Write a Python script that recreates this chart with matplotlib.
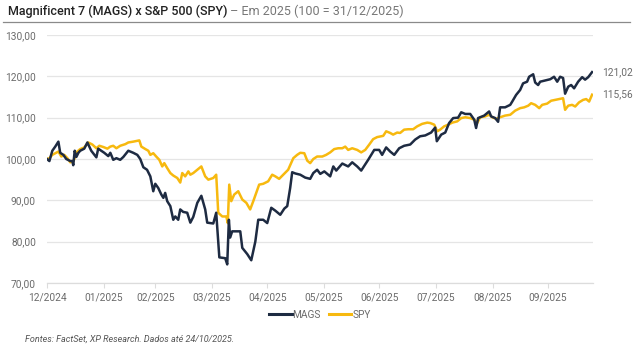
import matplotlib
matplotlib.use("Agg")
import matplotlib.pyplot as plt
import pandas as pd

# ---- data (days since 31/12/2024, index values) ----
mags_days = [0, 1.3, 2.9, 4.5, 6.2, 7.2, 8.9, 10.5, 12.7, 13.8, 14.3, 15.1, 16.0, 17.1, 18.1,
             20.3, 22.0, 24.1, 26.9, 27.9, 29.6, 31.2, 33.4, 34.5, 36.1, 37.8, 39.9, 41.6,
             44.3, 47.0, 49.2, 50.8, 52.5, 54.5, 56.3, 57.9, 59.0, 60.6, 62.3, 63.4, 64.4,
             65.5, 67.2, 68.8, 69.9, 71.5, 72.6, 74.2, 76.4, 78.1, 79.7, 81.9, 84.1, 86.2,
             87.3, 90.6, 92.2, 93.9, 97.1, 98.2, 99.1, 99.8, 100.9, 105.3, 106.4, 109.1,
             111.3, 113.5, 115.1, 117.8, 120.0, 122.2, 124.4, 127.1, 129.3, 130.9, 132.5,
             133.6, 135.3, 138.0, 140.7, 143.4, 145.1, 147.2, 148.9, 151.1, 154.3, 156.0,
             157.6, 160.9, 164.1, 166.3, 169.0, 171.2, 175.0, 178.3, 181.0, 182.6, 184.8,
             187.0, 189.2, 191.9, 194.6, 197.9, 200.6, 203.3, 206.1, 209.3, 211.5, 212.4,
             214.8, 217.0, 219.1, 221.3, 224.0, 225.7, 227.9, 230.6, 232.8, 233.8, 234.9,
             238.2, 240.9, 242.0, 244.2, 245.8, 246.9, 249.6, 252.4, 253.5, 255.6, 257.8,
             259.4, 261.6, 262.7, 264.9, 266.0, 267.6, 268.7, 271.4, 274.2, 276.3, 278.0,
             279.6, 281.2, 282.3, 284.0, 285.6, 287.2, 289.4, 291.6, 293.2, 294.9, 295.9, 297.0]
mags_vals = [100, 99.5, 102, 103, 104.2, 101.5, 101, 100, 99.5, 99.5, 98.5, 102, 100.5, 101.5, 102,
             102.5, 104, 102, 100.4, 102.5, 102, 101.5, 100.7, 101.5, 99.8, 100.2, 99.8, 100.5,
             102, 101.5, 101, 100, 98, 97.4, 95.8, 92.2, 94, 93, 91.4, 90.6, 91.8,
             89.8, 88.6, 85.3, 86.1, 85.3, 87.8, 87.2, 87, 84.6, 86, 89.4, 91.1, 87.8,
             84.6, 84.4, 87, 76.2, 76, 74.5, 85.3, 81, 82.5, 82.5, 78.5, 77,
             75.5, 80, 85.3, 85.3, 84.5, 88.2, 87.5, 86.5, 88, 88.6, 93,
             96.8, 96.5, 96.2, 95.5, 95.2, 96.6, 97.4, 96.4, 97, 95.8, 98.2,
             97.2, 98.9, 98.2, 99.2, 98.2, 97.2, 99.8, 102.2, 102.2, 101, 102.8,
             101.8, 101, 102.6, 103.2, 103.5, 104.7, 105.5, 105.7, 106.4, 107.6, 104.3,
             105.9, 106.4, 108.7, 109.9, 110, 111.3, 110.9, 110.9, 109.5, 107.5, 109.9,
             110.5, 111.5, 110.3, 109.9, 109, 112.5, 112.5, 113.1, 113.9, 115.5, 116.7,
             118.3, 118.7, 119.9, 120.5, 118.5, 117.9, 118.7, 119, 119.3, 119.9, 118.7,
             119.9, 119.6, 115.8, 117.5, 117.9, 117.1, 118.7, 119.8, 119.2, 119.8, 120.4, 121.02]

spy_days = [0, 1.3, 2.9, 4.5, 6.2, 7.8, 9.4, 11.1, 12.7, 14.3, 15.4, 16.5, 18.1, 20.3, 22.5,
            24.7, 26.9, 28.5, 30.7, 32.9, 34.5, 36.1, 37.8, 39.9, 42.7, 44.3, 47.0, 50.3,
            51.4, 53.6, 55.2, 56.3, 57.9, 59.5, 61.2, 62.8, 63.9, 65.5, 67.2, 68.8, 71.0,
            72.6, 73.7, 75.3, 77.0, 78.1, 79.7, 81.9, 84.1, 86.2, 87.9, 90.6, 92.2, 93.3,
            95.5, 97.7, 98.5, 99.3, 100.4, 102.0, 104.2, 106.4, 108.6, 110.7, 112.4, 114.0,
            115.6, 117.8, 120.5, 122.7, 124.4, 126.5, 128.7, 130.4, 131.4, 134.2, 136.3,
            138.0, 140.2, 141.8, 143.4, 145.1, 147.2, 150.0, 152.1, 154.3, 156.5, 158.7,
            160.9, 162.5, 164.1, 166.3, 169.0, 171.2, 173.4, 175.6, 177.7, 179.9, 183.2,
            184.8, 187.0, 188.6, 190.8, 192.4, 194.6, 196.8, 199.5, 201.7, 204.4, 207.2,
            208.8, 211.0, 212.6, 214.2, 216.4, 218.6, 220.8, 223.5, 225.7, 227.9, 230.6,
            232.8, 234.4, 236.0, 238.7, 240.9, 242.6, 244.7, 246.9, 249.6, 252.4, 255.1,
            257.8, 260.0, 262.2, 263.8, 266.0, 268.2, 269.8, 272.5, 274.7, 276.9, 279.1,
            281.2, 282.3, 284.0, 286.1, 287.8, 289.9, 292.1, 293.8, 295.4, 297.0]
spy_vals = [100, 100.2, 101, 101.4, 101.8, 100.6, 101, 100.2, 99.2, 99.4, 100.6, 101.8, 102.4, 102.8, 104,
            103.5, 102.6, 103.2, 102.9, 102.5, 103, 103.2, 102.6, 103.2, 103.6, 104, 104.2, 104.5,
            103, 102.4, 102, 101, 101.4, 100.6, 99.8, 98.2, 99, 97.8, 96.6, 96, 95.4,
            94.3, 96.6, 95.8, 97, 96.2, 96.6, 97.4, 98.2, 95.8, 95, 95.4, 96.2, 87,
            86.1, 86.1, 84.5, 93.8, 89.8, 91.4, 92.2, 90.2, 89.4, 87.8, 89.8, 91.8,
            93.8, 94, 94.6, 96.2, 95.8, 95.2, 96.2, 97, 97.4, 100.2, 101,
            101.5, 101.4, 99.6, 99, 100, 100.6, 100.6, 101, 101.6, 102.4, 102.6,
            102.6, 103, 102.2, 102.6, 102.2, 101.6, 102.2, 103.5, 104.8, 105.3, 105.6,
            106.7, 106.3, 105.9, 106.4, 106.3, 107.1, 107.2, 107.2, 107.9, 108.5, 108.8,
            108.7, 108.3, 106.7, 107.1, 107.9, 108.3, 108.8, 109.1, 109.9, 110.1, 109.9,
            109.5, 108.7, 110.1, 110.3, 110.7, 110.1, 109.7, 110.1, 110.5, 110.7, 111.7,
            112.3, 112.5, 112.9, 113.5, 113.1, 112.3, 113.1, 113.4, 114.1, 114.3, 114.5,
            114.7, 111.9, 112.9, 113.1, 112.7, 113.7, 114.3, 114.5, 113.9, 115.56]

tick_labels = ["12/2024", "01/2025", "02/2025", "03/2025", "04/2025",
               "05/2025", "06/2025", "07/2025", "08/2025", "09/2025"]
y_ticks = [70, 80, 90, 100, 110, 120, 130]
series_names = ["MAGS", "SPY"]
start = pd.Timestamp("2024-12-31")
end = pd.Timestamp("2025-10-24")

# ---- style ----
plt.rcParams['font.family'] = ['Roboto', 'DejaVu Sans']
C_MAGS = "#1e2b42"
C_SPY = "#f7b90f"
GRAY = "#6b6b6b"

fig = plt.figure(figsize=(6.39, 3.53), dpi=100)
ax = fig.add_axes([47/639, 1-283/353, (593-47)/639, (283-35)/353])

mx = start + pd.to_timedelta(mags_days, unit="D")
sx = start + pd.to_timedelta(spy_days, unit="D")
ax.plot(mx, mags_vals, color=C_MAGS, lw=1.8, label=series_names[0], solid_joinstyle="round", zorder=3)
ax.plot(sx, spy_vals, color=C_SPY, lw=1.8, label=series_names[1], solid_joinstyle="round", zorder=2)

ax.set_xlim(start, end + pd.Timedelta(days=0.5))
ax.set_ylim(70, 130)
ax.set_yticks(y_ticks)
ax.set_yticklabels([f"{v:.2f}".replace(".", ",") for v in y_ticks])
month_ticks = pd.date_range(start, periods=len(tick_labels), freq="ME")
ax.set_xticks(month_ticks)
ax.set_xticklabels(tick_labels)

ax.grid(axis="y", color="#e5e5e5", lw=0.9)
ax.set_axisbelow(True)
for s in ["top", "right", "left"]:
    ax.spines[s].set_visible(False)
ax.spines["bottom"].set_color("#dcdcdc")
ax.spines["bottom"].set_linewidth(0.9)
ax.tick_params(axis="y", length=0, labelsize=7.3, labelcolor=GRAY, pad=8)
ax.tick_params(axis="x", length=3.5, color="#dcdcdc", labelsize=7.3, labelcolor=GRAY, pad=3)

# end labels
ax.annotate(f"{mags_vals[-1]:.2f}".replace(".", ","), xy=(mx[-1], mags_vals[-1]),
            xytext=(7, 0), textcoords="offset points", va="center", ha="left",
            fontsize=7.3, color=GRAY, annotation_clip=False)
ax.annotate(f"{spy_vals[-1]:.2f}".replace(".", ","), xy=(sx[-1], spy_vals[-1]),
            xytext=(7, 0), textcoords="offset points", va="center", ha="left",
            fontsize=7.3, color=GRAY, annotation_clip=False)

# legend
leg = fig.legend(loc="center", bbox_to_anchor=(320/639, 1-315/353), ncol=2, frameon=False,
                 fontsize=7.3, handlelength=2.2, handletextpad=0.1, columnspacing=0.8)
for t in leg.get_texts():
    t.set_color(GRAY)
for h in leg.get_lines():
    h.set_linewidth(2.2)

# title
t1 = fig.text(8/639, 1-11/353, "Magnificent 7 (MAGS) x S&P 500 (SPY)", fontsize=9, color="#222222",
              va="center", ha="left", fontweight="medium")
fig.canvas.draw()
bb = t1.get_window_extent()
fig.text(bb.x1/639, 1-11/353, " – Em 2025 (100 = 31/12/2025)", fontsize=9, color="#777777",
         va="center", ha="left")
fig.add_artist(plt.Line2D([3/639, 630/639], [1-21.5/353, 1-21.5/353], color="#8a8a8a", lw=0.9))

# footnote
fig.text(25/639, 1-339/353, "Fontes: FactSet, XP Research. Dados até 24/10/2025.", fontsize=6.5,
         style="italic", color="#555555", va="center", ha="left")

fig.savefig("out.png", dpi=100)
